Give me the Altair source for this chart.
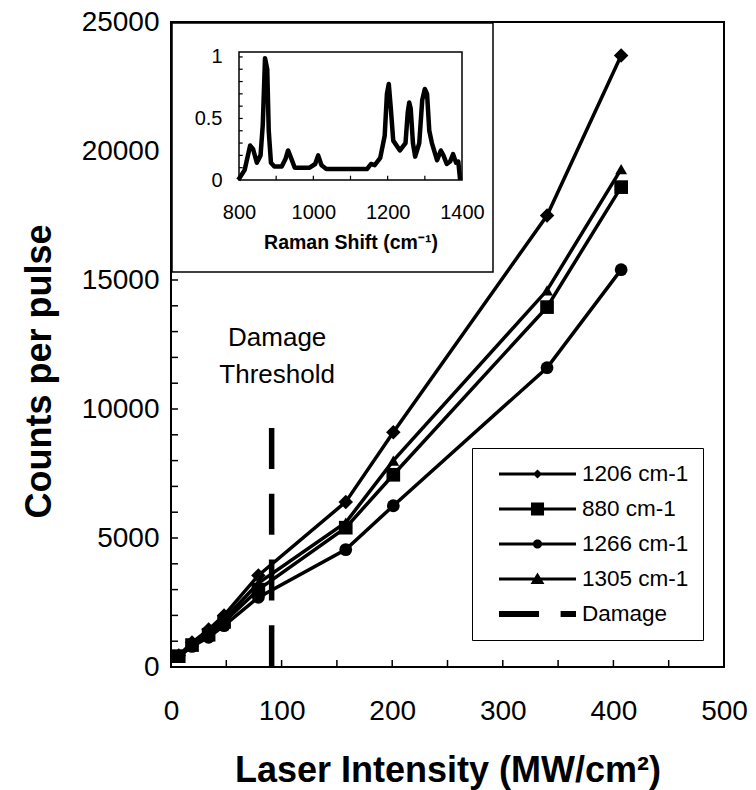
import altair as alt
import pandas as pd

# ---------------- data ----------------
INTENSITY = [7, 19, 34, 48, 79, 158, 201, 340, 407]
SERIES = ["1206 cm-1", "880 cm-1", "1266 cm-1", "1305 cm-1"]
COUNTS_1206 = [450, 950, 1450, 2000, 3550, 6400, 9100, 17500, 23700]
COUNTS_880 = [420, 850, 1250, 1750, 3000, 5400, 7450, 13950, 18600]
COUNTS_1266 = [400, 800, 1150, 1600, 2700, 4550, 6250, 11600, 15400]
COUNTS_1305 = [430, 900, 1350, 1850, 3250, 5600, 8000, 14600, 19300]

DAMAGE_X = 91
DAMAGE_TOP = 9260
DAMAGE_TEXT = ["Damage", "Threshold"]
DAMAGE_TEXT_X = [96, 96]
DAMAGE_TEXT_Y = [12750, 11300]

RAMAN_SHIFT = [798, 815, 830, 838, 848, 858, 864, 870, 876, 880, 886, 895, 915, 925,
               932, 940, 950, 990, 1005, 1013, 1022, 1035, 1145, 1155, 1165, 1180,
               1192, 1198, 1203, 1208, 1215, 1233, 1248, 1254, 1258, 1262, 1268, 1274,
               1285, 1293, 1300, 1306, 1312, 1319, 1333, 1343, 1350, 1359, 1368, 1376,
               1384, 1390, 1395]
RAMAN_INT = [0.0, 0.08, 0.28, 0.25, 0.14, 0.2, 0.45, 0.99, 0.9, 0.4, 0.14, 0.11, 0.11, 0.17,
             0.24, 0.18, 0.1, 0.1, 0.13, 0.2, 0.12, 0.09, 0.09, 0.13, 0.12, 0.18,
             0.36, 0.7, 0.78, 0.6, 0.32, 0.24, 0.3, 0.55, 0.63, 0.58, 0.3, 0.19,
             0.3, 0.65, 0.74, 0.7, 0.4, 0.3, 0.16, 0.24, 0.2, 0.13, 0.15, 0.21,
             0.14, 0.15, 0.0]

MAIN_X_LABELS = [0, 100, 200, 300, 400, 500]
MAIN_Y_LABELS = [0, 5000, 10000, 15000, 20000, 25000]
MAIN_X_TICKS = list(range(50, 500, 50))
MAIN_Y_TICKS = list(range(1000, 25000, 1000))
INSET_X_LABELS = [800, 1000, 1200, 1400]
INSET_Y_LABELS = [0, 0.5, 1]
INSET_X_TICKS = [900, 1000, 1100, 1200, 1300]
INSET_Y_TICKS = [0.1, 0.2, 0.3, 0.4, 0.5, 0.6, 0.7, 0.8, 0.9, 1.0]

LEGEND_LABELS = ["1206 cm-1", "\u2007880 cm-1", "1266 cm-1", "1305 cm-1", "Damage"]

# ---------------- styles ----------------
FONT = "Liberation Sans"
PLOT_W, PLOT_H = 553, 645
SHAPES = ["diamond", "square", "circle", "triangle-up"]
SIZES = [210, 140, 135, 190]
LINE = "M-1,-0.04H1V0.04H-1Z"
LEGEND_PATHS = [
    LINE + " M0,-0.12L0.12,0L0,0.12L-0.12,0Z",
    LINE + " M-0.17,-0.17H0.17V0.17H-0.17Z",
    LINE + " M-0.12,0A0.12,0.12,0,1,1,0.12,0A0.12,0.12,0,1,1,-0.12,0Z",
    LINE + " M0,-0.17L0.18,0.13H-0.18Z",
    "M-1,-0.08H0.04V0.08H-1Z M0.6,-0.08H1V0.08H0.6Z",
]
MAIN_TICK_LEN = 7
INSET_TICK_X_LEN = 0.035   # in inset y units
INSET_TICK_Y_LEN = 10      # in inset x units

rows = []
for name, vals in zip(SERIES, [COUNTS_1206, COUNTS_880, COUNTS_1266, COUNTS_1305]):
    for xv, yv in zip(INTENSITY, vals):
        rows.append({"series": name, "intensity": xv, "counts": yv})
main_df = pd.DataFrame(rows)

x_main_scale = alt.Scale(domain=[0, 500], nice=False, zero=False)
y_main_scale = alt.Scale(domain=[0, 25000], nice=False, zero=False)

x_main_axis = alt.Axis(
    orient="bottom", values=MAIN_X_LABELS, ticks=False, domain=False, grid=False,
    labelFont=FONT, labelFontSize=28, labelColor="black", labelPadding=52,
    labelBaseline="alphabetic", labelFlush=False, labelOverlap=False, zindex=3,
    title="Laser Intensity (MW/cm\u00b2)", titleFont=FONT, titleFontSize=36,
    titleFontWeight="bold", titleColor="black", titleY=114, titleBaseline="alphabetic",
)
y_main_axis = alt.Axis(
    orient="left", values=MAIN_Y_LABELS, format="d", ticks=False, domain=False,
    grid=False, labelFont=FONT, labelFontSize=28, labelColor="black", labelPadding=12,
    labelFlush=False, labelOverlap=False, zindex=3,
    title="Counts per pulse", titleFont=FONT, titleFontSize=36, titleFontWeight="bold",
    titleColor="black", titleX=-121, titleY=349, titleAngle=270,
    titleBaseline="alphabetic", titleAlign="center",
)

x_enc = alt.X("intensity:Q", scale=x_main_scale, axis=x_main_axis)
y_enc = alt.Y("counts:Q", scale=y_main_scale, axis=y_main_axis)

lines = alt.Chart(main_df).mark_line(color="black", strokeWidth=3.5).encode(
    x=x_enc, y=y_enc, detail="series:N"
)
points = alt.Chart(main_df).mark_point(filled=True, color="black", opacity=1, strokeWidth=0).encode(
    x=x_enc, y=y_enc,
    shape=alt.Shape("series:N", scale=alt.Scale(domain=SERIES, range=SHAPES), legend=None),
    size=alt.Size("series:N", scale=alt.Scale(domain=SERIES, range=SIZES), legend=None),
)
damage_df = pd.DataFrame({"intensity": [DAMAGE_X], "counts": [DAMAGE_TOP], "counts0": [0]})
damage = alt.Chart(damage_df).mark_rule(color="black", strokeWidth=5.5, strokeDash=[41, 24.7]).encode(
    x=x_enc, y=y_enc, y2="counts0:Q"
)
text_df = pd.DataFrame({"intensity": DAMAGE_TEXT_X, "counts": DAMAGE_TEXT_Y, "label": DAMAGE_TEXT})
damage_text = alt.Chart(text_df).mark_text(
    font=FONT, fontSize=26, color="black", align="center", baseline="middle"
).encode(x=x_enc, y=y_enc, text="label:N")

xt_df = pd.DataFrame({"intensity": MAIN_X_TICKS})
x_ticks = alt.Chart(xt_df).mark_rule(color="black", strokeWidth=1.5).encode(
    x=x_enc, y=alt.value(PLOT_H), y2=alt.value(PLOT_H - MAIN_TICK_LEN)
)
yt_df = pd.DataFrame({"counts": MAIN_Y_TICKS})
y_ticks = alt.Chart(yt_df).mark_rule(color="black", strokeWidth=1.5).encode(
    y=y_enc, x=alt.value(0), x2=alt.value(MAIN_TICK_LEN)
)

main = alt.layer(lines, points, damage, damage_text, x_ticks, y_ticks)

inset_box = alt.Chart(pd.DataFrame({"k": [0]})).mark_rect(
    fill="white", stroke="black", strokeWidth=1.5
).encode(x=alt.value(1), x2=alt.value(322), y=alt.value(1), y2=alt.value(250))

x_in_scale = alt.Scale(domain=[800, 1400], range=[68, 291], nice=False, zero=False)
y_in_scale = alt.Scale(domain=[0, 1.04], range=[158, 30], nice=False, zero=False)
x_in_axis = alt.Axis(
    orient="bottom", offset=-487, values=INSET_X_LABELS, format="d", ticks=False, domain=False,
    grid=False, labelFont=FONT, labelFontSize=20, labelColor="black", labelPadding=38,
    labelBaseline="alphabetic", labelFlush=False, labelOverlap=False, zindex=3,
    title="Raman Shift (cm\u207b\u00b9)", titleFont=FONT, titleFontSize=19.5,
    titleFontWeight="bold", titleColor="black", titleY=68, titleBaseline="alphabetic",
)
y_in_axis = alt.Axis(
    orient="left", offset=-68, values=INSET_Y_LABELS, format="~g", ticks=False, domain=False,
    grid=False, labelFont=FONT, labelFontSize=20, labelColor="black", labelPadding=17,
    labelFlush=False, labelOverlap=False, title=None, zindex=3,
)
xi = alt.X("shift:Q", scale=x_in_scale, axis=x_in_axis)
yi = alt.Y("inten:Q", scale=y_in_scale, axis=y_in_axis)

raman_df = pd.DataFrame({"shift": RAMAN_SHIFT, "inten": RAMAN_INT})
raman_line = alt.Chart(raman_df).mark_line(
    color="black", strokeWidth=4.5, strokeJoin="round"
).encode(x=xi, y=yi)
inner_df = pd.DataFrame({"shift": [800], "shift2": [1400], "inten": [0], "inten2": [1.04]})
inner_box = alt.Chart(inner_df).mark_rect(
    fillOpacity=0, stroke="black", strokeWidth=1.5
).encode(x=xi, x2="shift2:Q", y=yi, y2="inten2:Q")
ixt_df = pd.DataFrame({"shift": INSET_X_TICKS, "inten": 0.0, "inten2": INSET_TICK_X_LEN})
inset_xt = alt.Chart(ixt_df).mark_rule(color="black", strokeWidth=1.2).encode(
    x=xi, y=yi, y2="inten2:Q"
)
iyt_df = pd.DataFrame({"inten": INSET_Y_TICKS, "shift": 800, "shift2": 800 + INSET_TICK_Y_LEN})
inset_yt = alt.Chart(iyt_df).mark_rule(color="black", strokeWidth=1.2).encode(
    y=yi, x=xi, x2="shift2:Q"
)
inset = alt.layer(raman_line, inner_box, inset_xt, inset_yt)

legend_df = pd.DataFrame({"label": LEGEND_LABELS})
legend_layer = alt.Chart(legend_df).mark_point(
    filled=True, color="black", size=5929, strokeWidth=0
).encode(
    x=alt.value(-3000), y=alt.value(-3000),
    shape=alt.Shape(
        "label:N", sort=LEGEND_LABELS,
        scale=alt.Scale(domain=LEGEND_LABELS, range=LEGEND_PATHS),
        legend=alt.Legend(
            orient="none", legendX=301, legendY=426, title=None, padding=14,
            strokeColor="black", fillColor="white", symbolSize=5929,
            symbolFillColor="black", symbolStrokeColor="black", symbolStrokeWidth=0,
            symbolOpacity=1, symbolOffset=13, labelOffset=6, labelFont=FONT,
            labelFontSize=22.5, labelColor="black", rowPadding=11, labelLimit=300,
            clipHeight=24,
        ),
    ),
)

chart = alt.layer(
    main, inset_box, inset, legend_layer
).resolve_scale(
    x="independent", y="independent", shape="independent", size="independent"
).properties(
    width=PLOT_W, height=PLOT_H,
    padding={"left": 163, "top": 14, "right": 24, "bottom": 123},
    autosize=alt.AutoSizeParams(type="none"),
    background="white",
).configure_view(stroke="black", strokeWidth=2)

chart.save("out.html", embed_options={"renderer": "svg", "actions": False})
